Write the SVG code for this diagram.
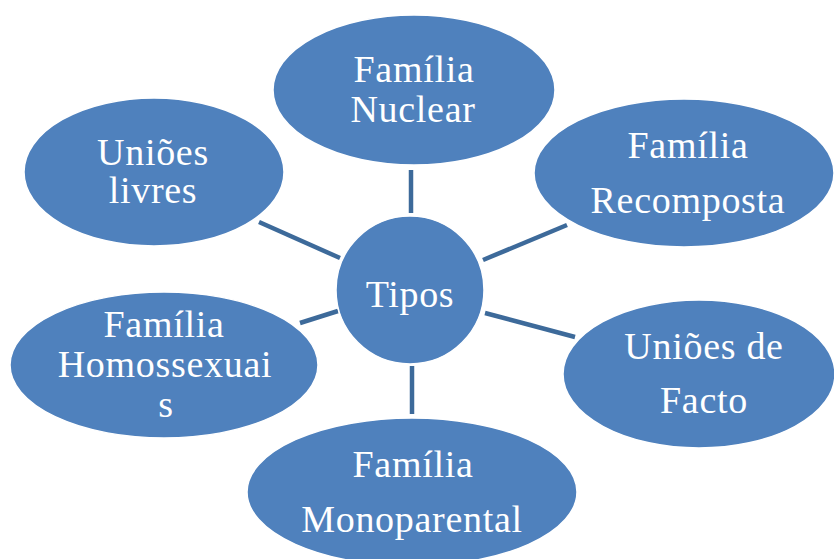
<svg xmlns="http://www.w3.org/2000/svg" width="834" height="559" viewBox="0 0 834 559">
<style>
.n{fill:#4f81bd;stroke:#ffffff;stroke-width:1.5}
.t{font-family:"Liberation Serif","Times New Roman",serif;font-size:38px;letter-spacing:0.7px;fill:#ffffff;text-anchor:middle}
.c line{stroke:#3d6a9a;stroke-width:4.5}
</style>
<rect width="834" height="559" fill="#ffffff"/>
<g class="c" id="connectors">
<line x1="411" y1="170" x2="411" y2="213"/>
<line x1="483" y1="260" x2="567" y2="225"/>
<line x1="485" y1="313" x2="575" y2="337"/>
<line x1="412" y1="366" x2="412" y2="414"/>
<line x1="300" y1="323" x2="338" y2="311"/>
<line x1="259" y1="222" x2="340" y2="258"/>
</g>
<g id="nuclear"><ellipse class="n" cx="414" cy="90" rx="141" ry="75"/><text class="t" x="414" y="82">Família</text><text class="t" x="413" y="122">Nuclear</text></g>
<g id="recomposta"><ellipse class="n" cx="684" cy="173" rx="150" ry="74"/><text class="t" x="688" y="158">Família</text><text class="t" x="688" y="213">Recomposta</text></g>
<g id="facto"><ellipse class="n" cx="699" cy="374" rx="136" ry="74"/><text class="t" x="704" y="359">Uniões de</text><text class="t" x="704" y="413">Facto</text></g>
<g id="monoparental"><ellipse class="n" cx="412" cy="492" rx="165" ry="74"/><text class="t" x="413" y="477">Família</text><text class="t" x="412" y="532">Monoparental</text></g>
<g id="homossexuais"><ellipse class="n" cx="164" cy="365" rx="154" ry="73"/><text class="t" x="164" y="337">Família</text><text class="t" x="165" y="377">Homossexuai</text><text class="t" x="166" y="417">s</text></g>
<g id="livres"><ellipse class="n" cx="154" cy="172" rx="130" ry="74"/><text class="t" x="153" y="165">Uniões</text><text class="t" x="153" y="203">livres</text></g>
<g id="tipos"><circle class="n" cx="410" cy="290" r="74"/><text class="t" x="410" y="307">Tipos</text></g>
</svg>
